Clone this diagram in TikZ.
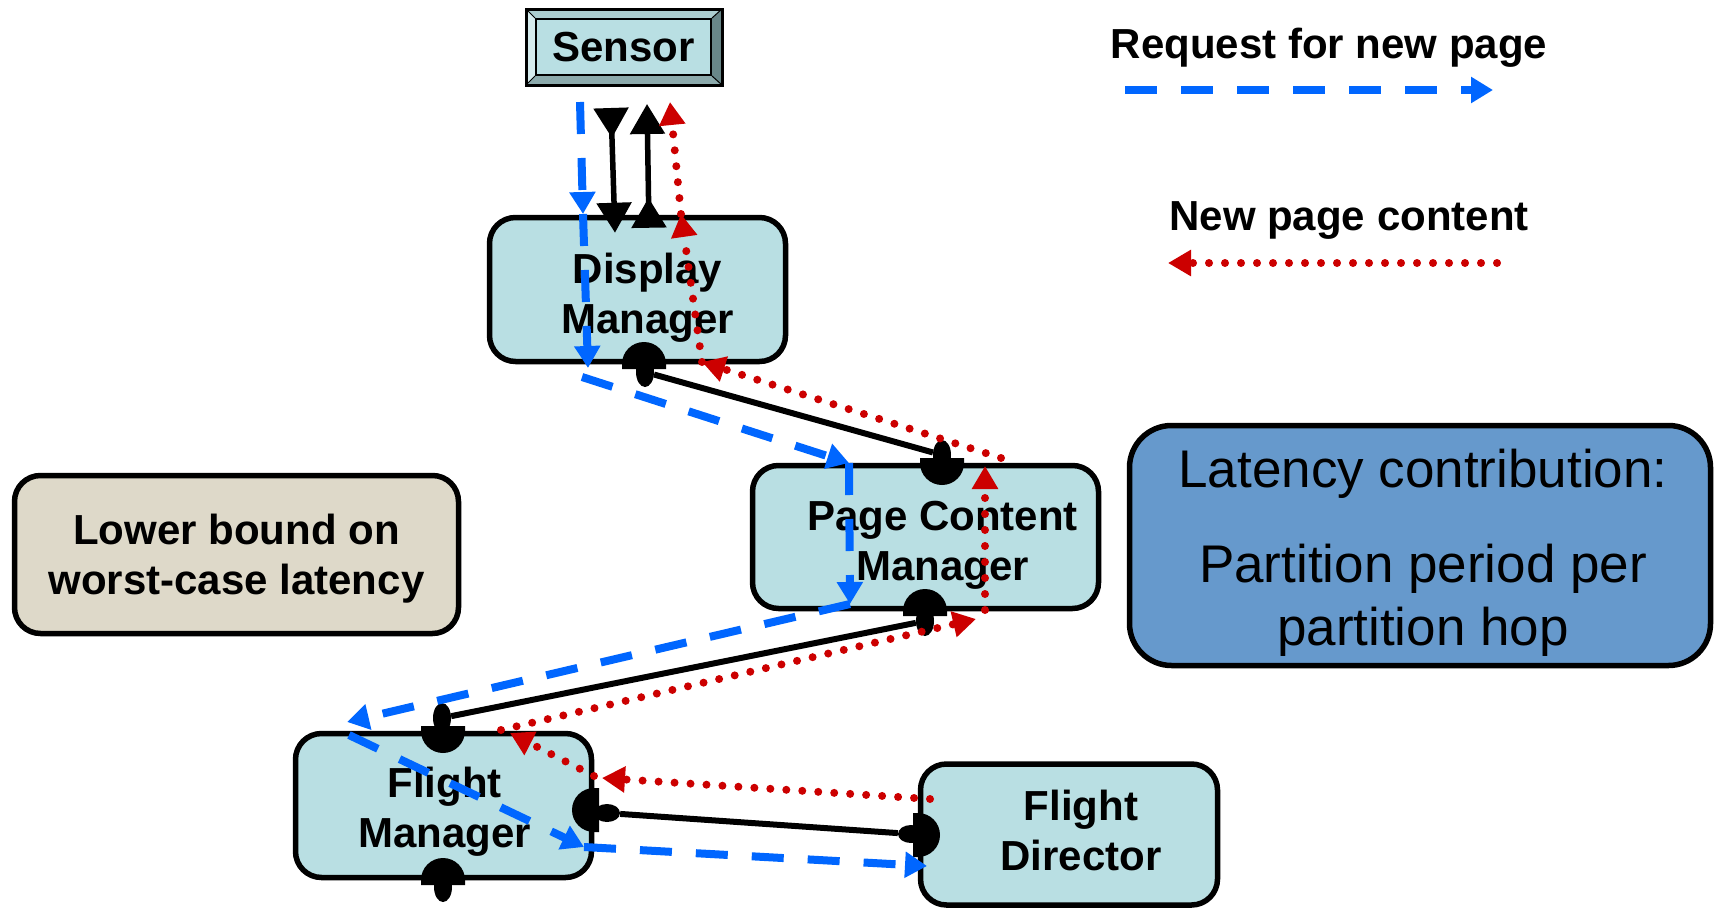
\documentclass[tikz,border=0pt]{standalone}
\usepackage{fontspec}
\setmainfont{Liberation Sans}
\usetikzlibrary{arrows.meta, positioning, shapes.geometric}

\definecolor{partcyan}{RGB}{185,223,227}
\definecolor{boundbeige}{RGB}{222,217,201}
\definecolor{latblue}{RGB}{102,153,204}
\definecolor{reqblue}{RGB}{0,102,255}
\definecolor{newred}{RGB}{204,0,0}
\definecolor{beveltop}{RGB}{172,206,208}
\definecolor{bevelleft}{RGB}{214,236,238}
\definecolor{bevelbottom}{RGB}{140,170,172}
\definecolor{bevelright}{RGB}{104,134,136}

% half disc sitting on a box border, #2 = direction of the dome
\newcommand{\socket}[2]{%
  \fill[shift={(#1)}, rotate=#2] (-5pt,-22pt) -- (0pt,-22pt)
    arc[start angle=-90, end angle=90, radius=22pt] -- (-5pt,22pt) -- cycle;}

\begin{document}
\begin{tikzpicture}[x=1pt, y=-1pt, on grid,
    part/.style={draw, line width=5.5pt, rounded corners=26pt, fill=partcyan},
    partname/.style={align=center, font=\bfseries\fontsize{42}{50}\selectfont},
    plug/.style={ellipse, fill, inner sep=0pt, minimum width=18pt, minimum height=30pt},
    wire/.style={line width=6pt},
    link/.style={line width=5.5pt,
      {Triangle[reversed, length=30pt, width=34pt]}-{Triangle[length=30pt, width=34pt]}},
    request/.style={draw=reqblue, line width=8pt, dash pattern=on 32pt off 24pt,
      -{Triangle[length=22pt, width=25pt, fill=reqblue]}},
    content/.style={draw=newred, line width=8pt, line cap=round, dash pattern=on 0pt off 16pt,
      -{Triangle[length=23pt, width=25pt, fill=newred]}},
    legend/.style={font=\bfseries\fontsize{42}{50}\selectfont, anchor=base}]

    \useasboundingbox (0,0) rectangle (1715,910);

    % bevelled frame round the sensor
    \fill[bevelright] (526,9) rectangle (722,85);
    \fill[beveltop] (526,9) -- (722,9) -- (712,18) -- (535,18) -- cycle;
    \fill[bevelleft] (526,9) -- (535,18) -- (535,76) -- (526,85) -- cycle;
    \fill[bevelbottom] (526,85) -- (535,76) -- (712,76) -- (722,85) -- cycle;
    \draw[line width=1pt] (526,9) -- (535,18) (722,9) -- (712,18)
        (526,85) -- (535,76) (722,85) -- (712,76);
    \draw[line width=3pt] (526,9) rectangle (722,85);
    \node[part, partname, sharp corners, line width=2pt, minimum width=175pt, minimum height=56pt] (sensor) at (623.5,47) {Sensor};

    \node[part, minimum width=296pt, minimum height=144pt] (dm) at (637.5,289.5) {};
    \node[part, minimum width=346pt, minimum height=143pt] (pcm) [below right=247.5pt and 288pt of dm] {};
    \node[part, minimum width=296pt, minimum height=144pt] (fm) [below left=268.5pt and 482pt of pcm] {};
    \node[part, minimum width=297pt, minimum height=141pt] (fd) [below right=29pt and 625.5pt of fm] {};
    \node[part, fill=boundbeige, minimum width=444pt, minimum height=158pt] (bound) at (236.5,554.5) {};
    \node[part, fill=latblue, rounded corners=42pt, minimum width=581pt, minimum height=240pt] (contrib) at (1420,545.5) {};

    \node[partname] (dmname) at ([shift={(10,8)}]dm.center) {Display\\Manager};
    \node[partname] (pcmname) at ([shift={(17,8)}]pcm.center) {Page Content\\Manager};
    \node[partname] (fmname) at ([shift={(1,6)}]fm.center) {Flight\\Manager};
    \node[partname] (fdname) at ([shift={(12,-4)}]fd.center) {Flight\\Director};
    \node[partname] (boundname) at ([shift={(0,4)}]bound.center) {Lower bound on\\worst-case latency};
    \node[align=center, font=\fontsize{53}{63}\selectfont] (contribname) at ([shift={(3,7)}]contrib.center)
        {Latency contribution:\\[32pt]Partition period per\\partition hop};

    % legend
    \node[legend] (reqkey) at (1329,58) {Request for new page};
    \node[legend] (newkey) at (1349,230) {New page content};
    \draw[request] ([shift={(-204,32)}]reqkey.base) -- ([shift={(164,32)}]reqkey.base);
    \draw[content] ([shift={(148,33)}]newkey.base) -- ([shift={(-181,33)}]newkey.base);

    % ports
    \coordinate (dmport) at (644,364);
    \coordinate (pcmtopport) at (942,463);
    \coordinate (pcmbotport) at (925,611);
    \coordinate (fmtopport) at (443,731);
    \coordinate (fmrightport) at (594,810);
    \coordinate (fdport) at (918,835);
    \coordinate (fmbotport) at (443,880);
    \socket{dmport}{90}
    \socket{pcmtopport}{-90}
    \socket{pcmbotport}{90}
    \socket{fmtopport}{-90}
    \socket{fmrightport}{180}
    \socket{fdport}{0}
    \socket{fmbotport}{90}

    \node[plug] (dmplug) at (645,372) {};
    \node[plug] (pcmtop) at (942,455) {};
    \node[plug] (pcmbot) at (925,621) {};
    \node[plug] (fmtop) at (442,718) {};
    \node[plug, minimum width=26pt, minimum height=18pt] (fmright) at (607,813) {};
    \node[plug, minimum width=26pt, minimum height=18pt] (fdleft) at (911,834) {};
    \node[plug] (fmbot) at (443,887) {};

    \draw[wire] (dmplug) -- (pcmtop);
    \draw[wire] (pcmbot) -- (fmtop);
    \draw[wire] (fmright) -- (fdleft);

    \draw[link] ([shift={(-12.5,32)}]sensor.south) -- ([shift={(-22.5,18)}]dm.north);
    \draw[link] ([shift={(11.5,13)}]dm.north) -- ([shift={(23.5,28)}]sensor.south);

    % request path
    \coordinate (rq0) at (580,102);
    \coordinate (rq1) at (583,214);
    \coordinate (rq2) at (588,368);
    \coordinate (rq2b) at (582,377);
    \coordinate (rq3) at (849,463);
    \coordinate (rq4) at (850,604);
    \coordinate (rq5) at (347,722);
    \coordinate (rq5b) at (349,735);
    \coordinate (rq6) at (584,847);
    \coordinate (rq7) at (927,866);
    \draw[request] (rq0) -- (rq1);
    \draw[request] (rq1) -- (rq2);
    \draw[request] (rq2b) -- (rq3);
    \draw[request] (rq3) -- (rq4);
    \draw[request] (rq4) -- (rq5);
    \draw[request] (rq5b) -- (rq6);
    \draw[request] (rq6) -- (rq7);

    % content path
    \coordinate (nc0) at (930,799);
    \coordinate (nc1) at (602,778);
    \coordinate (nc1b) at (594,776);
    \coordinate (nc2) at (510,733);
    \coordinate (nc2b) at (501,730);
    \coordinate (nc3) at (976,619);
    \coordinate (nc3b) at (985,610);
    \coordinate (nc4) at (985,466);
    \coordinate (nc4b) at (1001,458);
    \coordinate (nc5) at (702,362);
    \coordinate (nc6) at (681,214);
    \coordinate (nc7) at (670,102);
    \draw[content] (nc0) -- (nc1);
    \draw[content] (nc1b) -- (nc2);
    \draw[content] (nc2b) -- (nc3);
    \draw[content] (nc3b) -- (nc4);
    \draw[content] (nc4b) -- (nc5);
    \draw[content] (nc5) -- (nc6);
    \draw[content] (nc6) -- (nc7);
\end{tikzpicture}
\end{document}
